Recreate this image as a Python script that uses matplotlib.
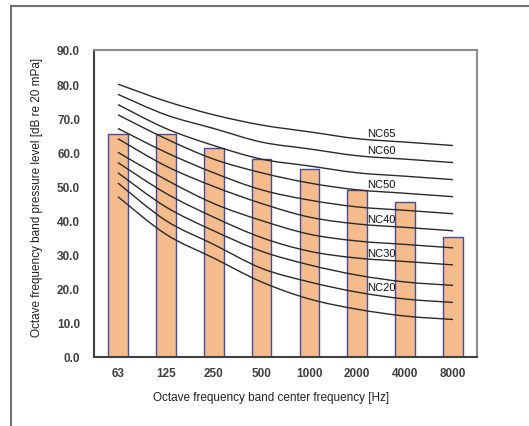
import matplotlib
matplotlib.use('Agg')
import matplotlib.pyplot as plt
from matplotlib.path import Path
import matplotlib.patches as mpatches
from matplotlib.lines import Line2D
import numpy as np

plt.rcParams['font.family'] = ['Liberation Sans', 'DejaVu Sans']

# ── data ─────────────────────────────────────────────
bands = ['63', '125', '250', '500', '1000', '2000', '4000', '8000']
measured = [65.4, 65.4, 61.2, 58.0, 55.1, 49.0, 45.3, 35.3]

nc_levels = [65, 60, 55, 50, 45, 40, 35, 30, 25, 20, 15]
nc_curves = [
    [80, 75, 71, 68, 66, 64, 63, 62],
    [77, 71, 67, 63, 61, 59, 58, 57],
    [74, 67, 62, 58, 56, 54, 53, 52],
    [71, 64, 58, 54, 51, 49, 48, 47],
    [67, 60, 54, 49, 46, 44, 43, 42],
    [64, 56, 50, 45, 41, 39, 38, 37],
    [60, 52, 45, 40, 36, 34, 33, 32],
    [57, 48, 41, 35, 31, 29, 28, 27],
    [54, 44, 37, 31, 27, 24, 22, 21],
    [51, 40, 33, 26, 22, 19, 17, 16],
    [47, 36, 29, 22, 17, 14, 12, 11],
]
labelled = [65, 60, 50, 40, 30, 20]


def smooth_path(xs, ys):
    # Excel 风格的平滑线：Catmull-Rom 转三次 Bezier
    pts = np.column_stack([xs, ys]).astype(float)
    n = len(pts)
    verts = [pts[0]]
    codes = [Path.MOVETO]
    for i in range(n - 1):
        p0 = pts[max(i - 1, 0)]
        p1 = pts[i]
        p2 = pts[i + 1]
        p3 = pts[min(i + 2, n - 1)]
        c1 = p1 + (p2 - p0) / 6.0
        c2 = p2 - (p3 - p1) / 6.0
        verts += [c1, c2, p2]
        codes += [Path.CURVE4] * 3
    return Path(verts, codes)


fig = plt.figure(figsize=(5.29, 4.27), dpi=100, facecolor='white')
ax = fig.add_axes([94 / 529, 69 / 427, 383 / 529, 307 / 427])

x = np.arange(len(bands))
ax.bar(x, measured, width=0.41, color='#F4BB8C', edgecolor='#4A4A9A',
       linewidth=1.0, zorder=2)

for lvl, ys in zip(nc_levels, nc_curves):
    p = mpatches.PathPatch(smooth_path(x, ys), facecolor='none',
                           edgecolor='#2a2a2a', linewidth=1.0, zorder=3)
    ax.add_patch(p)
    if lvl in labelled:
        ax.text(5.2, lvl + 0.6, f'NC{lvl}', fontsize=8, color='#111111',
                ha='left', va='center', zorder=4)

ax.set_xlim(-0.5, len(bands) - 0.5)
ax.set_ylim(0, 90)
ax.set_yticks(np.arange(0, 91, 10))
ax.set_yticklabels([f'{v:.1f}' for v in np.arange(0, 91, 10)])
ax.set_xticks(x)
ax.set_xticklabels(bands)
ax.tick_params(axis='both', length=0, labelsize=8.5, labelcolor='#404040')
ax.tick_params(axis='y', pad=10)
ax.tick_params(axis='x', pad=7)
for lbl in ax.get_xticklabels() + ax.get_yticklabels():
    lbl.set_fontweight('bold')

for side in ('left', 'bottom'):
    ax.spines[side].set_color('#404040')
    ax.spines[side].set_linewidth(1.5)
for side in ('top', 'right'):
    ax.spines[side].set_color('#8c8c8c')
    ax.spines[side].set_linewidth(1.5)

fig.text(37 / 529, 1 - 197.5 / 427,
         'Octave frequency band pressure level [dB re 20 mPa]',
         rotation=90, ha='center', va='center', fontsize=8.5, color='#222222')
fig.text(271 / 529, 1 - 398 / 427,
         'Octave frequency band center frequency [Hz]',
         ha='center', va='center', fontsize=8.5, color='#222222')

# 外框（只显示上边和左边）
fig.add_artist(Line2D([11 / 529, 1], [1 - 6.5 / 427, 1 - 6.5 / 427],
                      transform=fig.transFigure, color='#707070', lw=1.5))
fig.add_artist(Line2D([11 / 529, 11 / 529], [0, 1 - 6.5 / 427],
                      transform=fig.transFigure, color='#707070', lw=1.5))

fig.savefig('out.png', dpi=100, facecolor='white')
plt.close(fig)
